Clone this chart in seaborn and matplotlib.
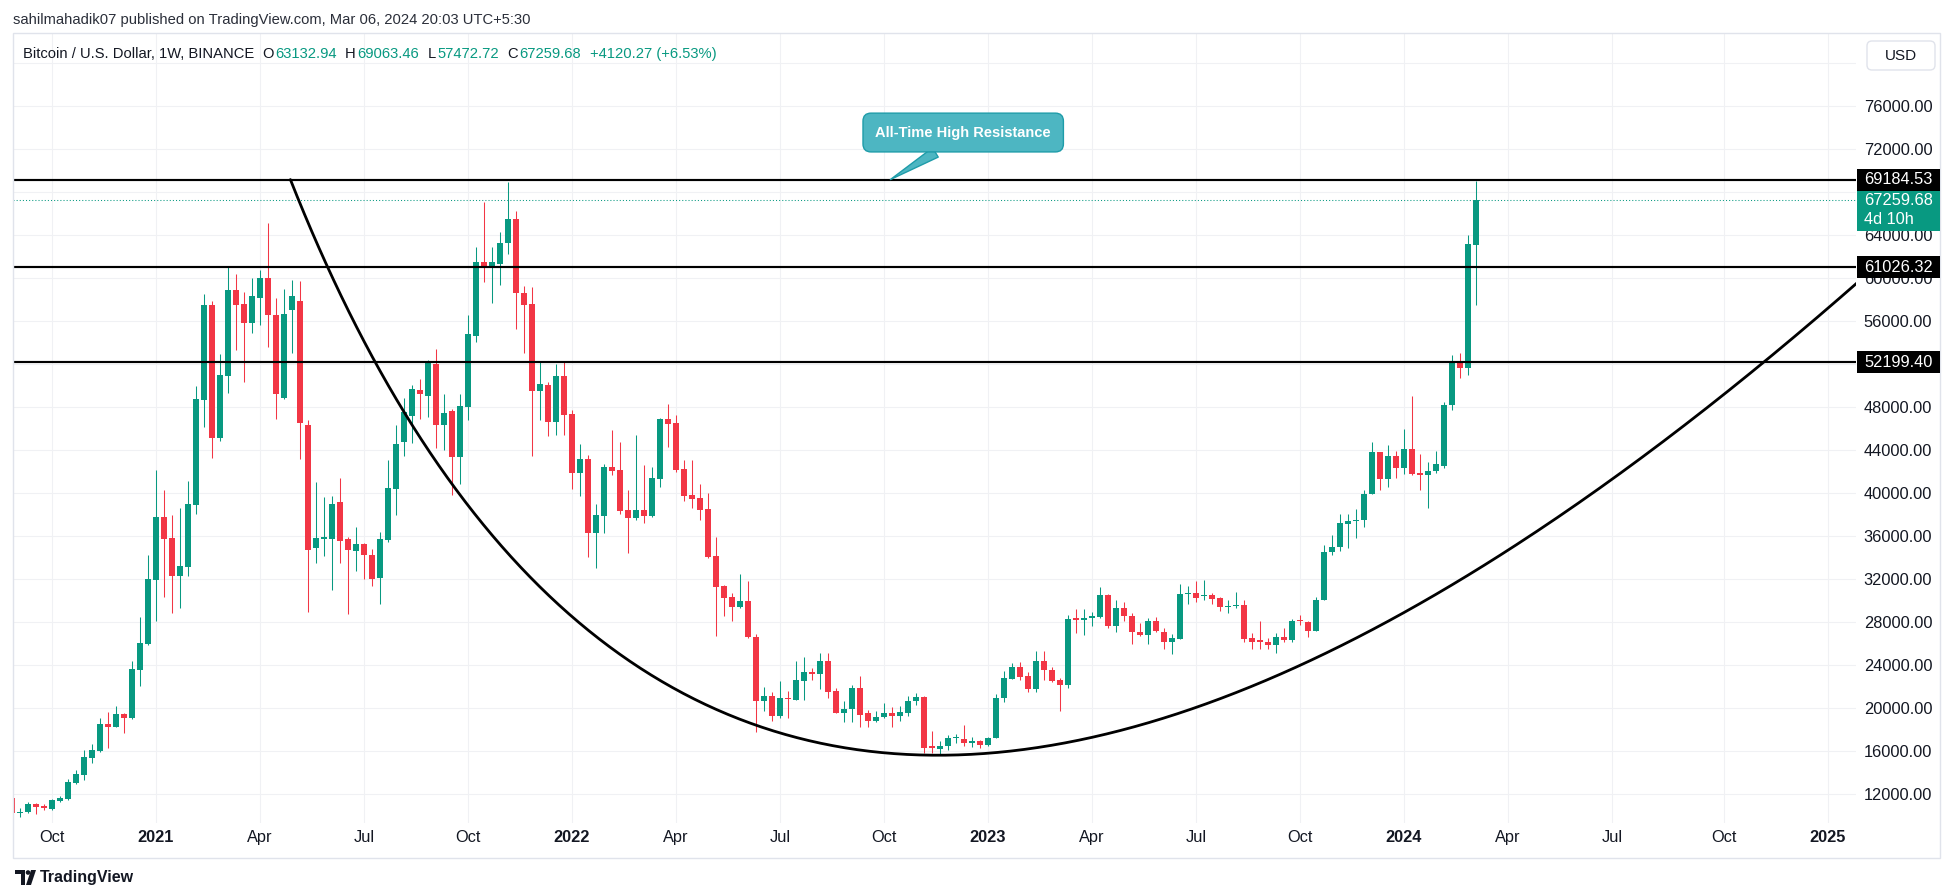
import matplotlib
matplotlib.use("Agg")
import matplotlib.pyplot as plt
import matplotlib.transforms as mtransforms
from matplotlib.patches import Rectangle, FancyBboxPatch, Circle, Polygon
import numpy as np
import pandas as pd
import seaborn as sns

# ---- data: weekly BTC/USD candles (Binance), first bar 2020-08-31 ----
FIRST_BAR = "2020-08-31"

OPEN = [
    11650, 10250, 10330, 11090, 10940, 10640, 11380, 11530, 13080, 13800, 15410, 16030, 18540, 18290, 19470, 19130, 23560, 25950,
    31970, 37800, 35840, 32340, 33180, 38940, 48710, 57520, 45180, 50940, 58910, 57610, 55870, 58200, 60030, 56590, 48900, 57080,
    57890, 46350, 34940, 35780, 35780, 39190, 35750, 34660, 35320, 34260, 32120, 35660, 40430, 44800, 47220, 49610, 49080, 52030,
    46390, 47660, 43410, 48060, 54660, 61520, 60930, 61300, 63270, 65470, 58620, 57610, 49550, 50070, 46660, 50910,
    47380, 41920, 43190, 36340, 37890, 42450, 42170, 38450, 37730, 38450, 37890, 41330, 46940, 46540, 42260, 39840, 39560, 38540,
    34170, 31380, 30320, 29420, 30000, 26600, 20650, 21120, 19240, 20960, 20800, 22530, 23390, 23230, 24400, 21630, 19590, 19940,
    21900, 19550, 18810, 19200, 19590, 19280, 19590, 20650, 21040, 16460, 16260, 16460, 17200, 17130, 16730, 16930,
    16620, 17200, 20960, 22760, 23860, 23000, 21820, 24370, 23580, 22600, 22140, 28360, 28200, 28360, 28480, 30550, 27700, 29340,
    28630, 27070, 26830, 28090, 27110, 26210, 26440, 30630, 30750, 30440, 30510, 30280, 29420, 29530, 29650, 26520, 26320, 26210,
    25930, 26600, 26320, 28160, 28010, 27230, 30040, 34550, 35050, 37170, 37400, 37480, 39950, 43860, 41320, 43470,
    42380, 44140, 41910, 41710, 42060, 42570, 48210, 52160, 51690, 63132.94,
]
HIGH = [
    11870, 10700, 11300, 11160, 11130, 11560, 11840, 13390, 14260, 16120, 16680, 19100, 19660, 20220, 19530, 24400, 28500, 34260,
    42170, 40310, 37980, 38630, 41150, 49980, 58540, 57890, 52960, 61140, 60400, 58700, 60000, 60770, 65140, 58140, 59000, 59840,
    59750, 46820, 41080, 39690, 39750, 41420, 35900, 36900, 35410, 34790, 36400, 43100, 46350, 48870, 50070, 50630, 52400, 53420,
    49240, 47870, 49240, 56590, 62910, 67130, 62950, 64270, 69000, 66280, 59270, 59180, 52310, 50380, 52030, 52250,
    47750, 44590, 43560, 39010, 42730, 45890, 44770, 40310, 45420, 42630, 42450, 47040, 48310, 47280, 43100, 43100, 40870, 40060,
    35940, 31460, 30710, 32470, 31880, 26910, 21980, 21550, 22530, 21630, 24400, 24760, 23780, 25190, 25190, 21870, 20650, 22210,
    22960, 19860, 19750, 20450, 20140, 20180, 21160, 21430, 21120, 17910, 16930, 17520, 17590, 18450, 17320, 17010,
    17320, 21350, 23470, 24170, 24290, 23390, 25350, 25350, 23860, 22800, 28670, 29260, 29260, 28950, 31300, 30600, 30120, 29850,
    28870, 27890, 28400, 28480, 27500, 26910, 31610, 31410, 31810, 31920, 30750, 30360, 30120, 30830, 30120, 26990, 28160, 26520,
    26990, 27500, 28280, 28670, 28160, 30360, 35210, 36110, 38070, 38070, 38540, 40300, 44800, 43860, 44450, 43940,
    45980, 49030, 43670, 42880, 43900, 48450, 52910, 53060, 63990, 69063.46,
]
LOW = [
    9900, 9850, 10250, 10140, 10540, 10540, 11320, 11470, 12930, 13330, 14940, 15970, 16310, 18230, 17730, 19000, 22110, 25890,
    28150, 30390, 28900, 29360, 32340, 38110, 46200, 43320, 44900, 49360, 53360, 50390, 54940, 55660, 53640, 46940, 48740, 53080,
    43220, 29000, 33550, 34200, 31000, 33550, 28770, 32770, 32030, 31380, 29700, 35470, 37980, 43470, 44710, 46940, 47130, 44250,
    44030, 39840, 40830, 46820, 54100, 59690, 57670, 59400, 62280, 55250, 53020, 43500, 46820, 45330, 45420, 45420,
    40400, 39750, 34110, 33080, 36340, 41700, 38080, 34480, 37520, 37270, 37800, 40620, 44340, 42010, 39320, 38660, 37520, 33950,
    26700, 28600, 28160, 29300, 26550, 17830, 19780, 18800, 19080, 19080, 20800, 20800, 22680, 21780, 20920, 19520, 18690, 18690,
    18300, 18300, 18690, 19080, 18300, 18840, 19280, 20340, 15870, 15870, 15680, 16150, 16730, 16540, 16420, 16340,
    16540, 17200, 20570, 22760, 22680, 21510, 21510, 22680, 22410, 19780, 21900, 26990, 26790, 27620, 28360, 27500, 27110, 28090,
    26010, 26720, 26010, 27070, 25540, 25030, 26440, 29730, 29930, 30120, 29730, 29070, 28870, 29340, 26210, 25540, 25540, 25540,
    25110, 26210, 26210, 27770, 26600, 27230, 30040, 34270, 34660, 34940, 35840, 36820, 39950, 40340, 40610, 41470,
    41790, 41710, 40300, 38660, 41870, 42380, 47740, 50680, 50990, 57472.72,
]
CLOSE = [
    10250, 10330, 11090, 10850, 10760, 11470, 11630, 13150, 13890, 15470, 16120, 18540, 18290, 19470, 19130, 23660, 26040, 32030,
    37800, 35780, 32340, 33240, 39010, 48770, 57520, 45180, 51010, 58910, 57550, 55870, 58350, 60030, 56620, 49270, 56680, 58350,
    46570, 34760, 35840, 35940, 39010, 35590, 34760, 35280, 34260, 32030, 35750, 40520, 44620, 47590, 49700, 49270, 52180, 46390,
    47470, 43410, 48120, 54820, 61520, 61080, 61550, 63270, 65470, 58620, 57550, 49550, 50170, 46660, 50910, 47280,
    41920, 43190, 36340, 37980, 42450, 42080, 38350, 37730, 38450, 37890, 41420, 46940, 46480, 42170, 39780, 39470, 38450, 34110,
    31320, 30290, 29420, 30000, 26600, 20650, 21120, 19310, 20960, 20900, 22600, 23390, 23190, 24400, 21510, 19590, 19980, 21900,
    19390, 18810, 19200, 19550, 19280, 19670, 20650, 21040, 16340, 16340, 16540, 17200, 17240, 16730, 16930, 16580,
    17200, 20960, 22800, 23860, 22920, 21820, 24370, 23580, 22530, 22140, 28280, 28200, 28400, 28560, 30550, 27700, 29340, 28560,
    27070, 26830, 28090, 27230, 26210, 26520, 30630, 30750, 30280, 30510, 30200, 29460, 29500, 29650, 26440, 26210, 26130, 25930,
    26600, 26320, 28090, 28090, 27230, 30040, 34550, 35050, 37210, 37400, 37480, 39950, 43860, 41320, 43470, 42380,
    44140, 41790, 41670, 42060, 42730, 48250, 52140, 51690, 63200, 67259.68,
]

LEVELS = [69184.53, 61026.32, 52199.40]
LAST_PRICE = 67259.68
COUNTDOWN = "4d 10h"

# hand-drawn cup curve: quadratic bezier anchors (bar index, price)
CURVE_START = (34.8, 69184.53)
CURVE_CTRL = (89.0, -32912.0)
CURVE_END = (230.75, 59650.0)

CALLOUT_TEXT = "All-Time High Resistance"
CALLOUT_TIP = (109.8, 69184.53)
CALLOUT_AT = (118.9, 73560.0)

HEADER = "sahilmahadik07 published on TradingView.com, Mar 06, 2024 20:03 UTC+5:30"
SYMBOL = "Bitcoin / U.S. Dollar, 1W, BINANCE"
OHLC_TEXT = [("O", "63132.94"), ("H", "69063.46"), ("L", "57472.72"), ("C", "67259.68")]
CHANGE = "+4120.27 (+6.53%)"

GREEN = "#089981"
RED = "#F23645"
TEXT = "#131722"
GRID = "#F0F1F4"
BORDER = "#E0E3EB"

W, H = 1946, 893

sns.set_style("white")
plt.rcParams["font.family"] = ["Liberation Sans", "DejaVu Sans"]

fig = plt.figure(figsize=(W / 100, H / 100), dpi=100)
fig.patch.set_facecolor("white")
# plot area in pixels: x 13..1856, y 33..823
ax = fig.add_axes([13 / W, 1 - 823 / H, (1856 - 13) / W, (823 - 33) / H])

o = np.array(OPEN, float)
h = np.array(HIGH, float)
l = np.array(LOW, float)
c = np.array(CLOSE, float)
idx = np.arange(len(o))
col = np.where(c >= o, GREEN, RED)

ax.vlines(idx, l, h, colors=col, linewidth=0.75, zorder=2)
ax.bar(idx, np.maximum(np.abs(c - o), 90), bottom=np.minimum(o, c), width=0.66,
       color=col, linewidth=0, zorder=2)

# levels and last price
for lv in LEVELS:
    ax.axhline(lv, color="black", lw=1.55, zorder=3)
ax.axhline(LAST_PRICE, color=GREEN, lw=0.75, ls=(0, (1, 2)), zorder=3)

# cup curve
t = np.linspace(0, 1, 500)
bx = (1 - t) ** 2 * CURVE_START[0] + 2 * t * (1 - t) * CURVE_CTRL[0] + t ** 2 * CURVE_END[0]
by = (1 - t) ** 2 * CURVE_START[1] + 2 * t * (1 - t) * CURVE_CTRL[1] + t ** 2 * CURVE_END[1]
sns.lineplot(x=bx, y=by, sort=False, estimator=None, color="black", lw=2.0, ax=ax, zorder=3)

# callout
ax.annotate(CALLOUT_TEXT, xy=CALLOUT_TIP, xytext=CALLOUT_AT, ha="center", va="center",
            color="white", fontsize=10.5, fontweight="bold", zorder=6,
            bbox=dict(boxstyle="round,pad=0.85,rounding_size=0.55", fc="#4DB6C2", ec="#1E9CA9", lw=1),
            arrowprops=dict(arrowstyle="wedge,tail_width=0.75,shrink_factor=0.5", fc="#4DB6C2",
                            ec="#1E9CA9", lw=1, relpos=(0.47, 0.05), shrinkA=0, shrinkB=0))

# axes
dates = pd.date_range(FIRST_BAR, periods=232, freq="W-MON")
ticks, labels = [], []
for i in range(1, len(dates)):
    if dates[i].month != dates[i - 1].month and dates[i].month in (1, 4, 7, 10):
        ticks.append(i)
        labels.append(str(dates[i].year) if dates[i].month == 1 else dates[i].strftime("%b"))

ax.set_xlim(0.125, 230.5)
ax.set_ylim(9332, 82818)
ax.set_xticks(ticks)
ax.set_xticklabels(labels)
for tl in ax.get_xticklabels():
    if tl.get_text().isdigit():
        tl.set_fontweight("bold")

yt = np.arange(12000, 84000, 4000)


def hidden(v):
    # labels sitting under the USD button or fully under a price tag are not drawn
    if v > 76000:
        return True
    return any(abs(v - lv) < 800 for lv in LEVELS) or (LAST_PRICE - 1200 < v < LAST_PRICE + 2300)


ax.set_yticks(yt)
ax.set_yticklabels(["" if hidden(v) else f"{v:.2f}" for v in yt])
ax.yaxis.tick_right()
ax.tick_params(axis="y", length=0, pad=5.5, labelsize=11.8, labelcolor=TEXT)
ax.tick_params(axis="x", length=0, pad=5, labelsize=11.8, labelcolor=TEXT)
ax.grid(True, color=GRID, lw=0.8, zorder=0)
ax.set_axisbelow(True)
for s in ax.spines.values():
    s.set_visible(False)
ax.set_xlabel("")
ax.set_ylabel("")
if ax.get_legend():
    ax.get_legend().remove()

ident = mtransforms.IdentityTransform()


def px(x, y):
    return x, H - y


def add_patch(p):
    p.set_transform(ident)
    fig.add_artist(p)


# frame
add_patch(Rectangle(px(13, 858), 1940 - 13, 858 - 33, fill=False, ec=BORDER, lw=1))


# price tags on the axis
def y_of(price):
    return H - ax.transData.transform((0, price))[1]


for lv in LEVELS:
    yc = y_of(lv)
    add_patch(Rectangle(px(1857, yc + 11), 83, 22, fc="black", ec="none", zorder=8))
    fig.text(1864 / W, 1 - yc / H, f"{lv:.2f}", color="white", fontsize=11.8, va="center", ha="left", zorder=9)
yc = y_of(LAST_PRICE)
add_patch(Rectangle(px(1857, yc + 31), 83, 40, fc=GREEN, ec="none", zorder=8))
fig.text(1864 / W, 1 - yc / H, f"{LAST_PRICE:.2f}", color="white", fontsize=11.8, va="center", ha="left", zorder=9)
fig.text(1864 / W, 1 - (yc + 19) / H, COUNTDOWN, color="white", fontsize=11.8, va="center", ha="left", zorder=9)

# USD button
add_patch(FancyBboxPatch(px(1867, 70), 68, 29, boxstyle="round,pad=0,rounding_size=5",
                         fc="white", ec=BORDER, lw=1, zorder=8))
fig.text(1901 / W, 1 - 55.5 / H, "USD", color=TEXT, fontsize=11, ha="center", va="center", zorder=9)

# headers
renderer = fig.canvas.get_renderer()
fig.text(13 / W, 1 - 20 / H, HEADER, color="#2A2E39", fontsize=10.65, va="center", ha="left")


def run(x, s, color):
    t_ = fig.text(x / W, 1 - 54 / H, s, color=color, fontsize=10.6, va="center", ha="left")
    return x + t_.get_window_extent(renderer).width


x = run(23, SYMBOL, TEXT) + 8
for letter, val in OHLC_TEXT:
    x = run(x, letter, TEXT) + 1
    x = run(x, val, GREEN) + 9
run(x, CHANGE, GREEN)

# footer logo + name
add_patch(Polygon([px(15, 870), px(25, 870), px(25, 885), px(21, 885), px(21, 874), px(15, 874)],
                  closed=True, fc=TEXT, ec="none"))
add_patch(Circle(px(28, 872.5), 2.3, fc=TEXT, ec="none"))
add_patch(Polygon([px(31, 870), px(36, 870), px(31, 885), px(26, 885)], closed=True, fc=TEXT, ec="none"))
fig.text(40 / W, 1 - 877.5 / H, "TradingView", color=TEXT, fontsize=11.5, fontweight="bold",
         va="center", ha="left")

fig.savefig("out.png", dpi=100, facecolor="white")
